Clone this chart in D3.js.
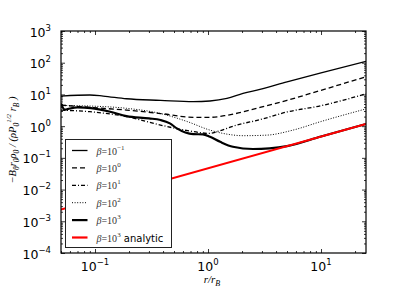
<!DOCTYPE html>
<html>
<head>
<meta charset="utf-8">
<script src="https://cdn.jsdelivr.net/npm/d3@7"></script>
<style>
	body { margin: 0; background: #fff; }
	svg { display: block; }
</style>
</head>
<body>
<script>
// values (r / r_B , -B_theta ...)
var rM1 = [0.05, 0.09, 0.118, 0.19, 0.38, 0.74, 1.04, 1.47, 2.04, 2.88, 5, 10, 25];
var bM1 = [8.9, 9.6, 8.9, 7.3, 6.5, 5.9, 6.2, 7.5, 10.8, 14.5, 25, 48, 110];

var rB0 = [0.05, 0.09, 0.19, 0.38, 0.74, 1.04, 1.47, 2.88, 5, 10, 25];
var bB0 = [4.6, 3.9, 3.2, 2.5, 1.9, 1.9, 2.2, 3.9, 6.5, 13.5, 36];

var rB1 = [0.05, 0.09, 0.19, 0.38, 0.66, 1.04, 1.2, 1.8, 2.88, 5, 10, 25];
var bB1 = [3.2, 2.85, 2.0, 1.08, 0.72, 0.59, 0.67, 1.08, 1.6, 2.8, 4.4, 10.5];

var rB2 = [0.05, 0.07, 0.09, 0.19, 0.38, 0.66, 1.04, 1.47, 2.04, 3.3, 5.65, 10, 25];
var bB2 = [4.5, 4.4, 4.3, 3.65, 2.5, 1.38, 0.75, 0.56, 0.5, 0.52, 0.75, 1.4, 3.5];

var rB3 = [0.05, 0.054, 0.058, 0.07, 0.092, 0.136, 0.19, 0.3, 0.38, 0.46, 0.53, 0.74, 0.9, 1.04, 1.28, 1.66, 2.5, 3.5, 5, 10, 25];
var bB3 = [5.2, 3.3, 3.5, 3.9, 3.7, 2.85, 2.08, 1.76, 1.56, 1.22, 0.85, 0.56, 0.55, 0.46, 0.32, 0.224, 0.19, 0.2, 0.235, 0.47, 1.17];

var rAn = [0.05, 25];
var bAn = [0.00235, 1.17];

var xTicks = [0.1, 1, 10];
var xTickExp = ["\u22121", "0", "1"];
var yTicks = [1e-4, 1e-3, 1e-2, 1e-1, 1, 10, 100, 1000];
var yTickExp = ["\u22124", "\u22123", "\u22122", "\u22121", "0", "1", "2", "3"];
var legendExp = ["\u22121", "0", "1", "2", "3", "3"];

var width = 407;
var height = 305;
var pLeft = 61, pRight = 366, pTop = 31, pBottom = 253;

var svg = d3
	.select("body")
	.append("svg")
	.attr("width", width)
	.attr("height", height);

var x = d3.scaleLog().domain([0.05, 25]).range([pLeft, pRight]);
var y = d3.scaleLog().domain([1e-4, 1e3]).range([pBottom, pTop]);

svg.append("clipPath").attr("id", "clip")
	.append("rect")
	.attr("x", pLeft).attr("y", pTop)
	.attr("width", pRight - pLeft).attr("height", pBottom - pTop);

function zip(rs, bs) {
	return rs.map(function (r, i) { return [r, bs[i]]; });
}

var series = [
	{ data: zip(rM1, bM1), color: "#000", w: 1.3, dash: null },
	{ data: zip(rB0, bB0), color: "#000", w: 1.3, dash: "5,3" },
	{ data: zip(rB1, bB1), color: "#000", w: 1.3, dash: "4,2,1,2" },
	{ data: zip(rB2, bB2), color: "#000", w: 1, dash: "1,1.6" },
	{ data: zip(rB3, bB3), color: "#000", w: 2.2, dash: null },
	{ data: zip(rAn, bAn), color: "#ff0000", w: 2.2, dash: null }
];

var line = d3.line()
	.x(function (d) { return x(d[0]); })
	.y(function (d) { return y(d[1]); })
	.curve(d3.curveMonotoneX);

var plot = svg.append("g").attr("clip-path", "url(#clip)");
plot.selectAll("path")
	.data(series)
	.enter()
	.append("path")
	.attr("d", function (d) { return line(d.data); })
	.attr("fill", "none")
	.attr("stroke", function (d) { return d.color; })
	.attr("stroke-width", function (d) { return d.w; })
	.attr("stroke-dasharray", function (d) { return d.dash; });

// minor tick values for log axes
function minors(domain) {
	var out = [];
	for (var e = -5; e <= 3; e++) {
		for (var k = 2; k <= 9; k++) {
			var v = k * Math.pow(10, e);
			if (v >= domain[0] && v <= domain[1]) out.push(v);
		}
	}
	return out;
}
var xMinor = minors(x.domain());
var yMinor = minors(y.domain());

function addAxis(axisFn, scale, vals, size, tr) {
	var g = svg.append("g")
		.attr("transform", tr)
		.call(axisFn(scale).tickValues(vals).tickSize(size).tickFormat(""));
	g.select(".domain").remove();
	g.selectAll("line").attr("stroke", "#000").attr("stroke-width", 0.8);
}
addAxis(d3.axisBottom, x, xTicks, -4, "translate(0," + pBottom + ")");
addAxis(d3.axisBottom, x, xMinor, -2, "translate(0," + pBottom + ")");
addAxis(d3.axisTop, x, xTicks, -4, "translate(0," + pTop + ")");
addAxis(d3.axisTop, x, xMinor, -2, "translate(0," + pTop + ")");
addAxis(d3.axisLeft, y, yTicks, -4, "translate(" + pLeft + ",0)");
addAxis(d3.axisLeft, y, yMinor, -2, "translate(" + pLeft + ",0)");
addAxis(d3.axisRight, y, yTicks, -4, "translate(" + pRight + ",0)");
addAxis(d3.axisRight, y, yMinor, -2, "translate(" + pRight + ",0)");

svg.append("rect")
	.attr("x", pLeft).attr("y", pTop)
	.attr("width", pRight - pLeft).attr("height", pBottom - pTop)
	.attr("fill", "none")
	.attr("stroke", "#000")
	.attr("stroke-width", 1.2);

// tick labels 10^n
var tickFont = "'DejaVu Sans', sans-serif";
xTicks.forEach(function (v, i) {
	var t = svg.append("text")
		.attr("x", x(v))
		.attr("y", pBottom + 18)
		.attr("text-anchor", "middle")
		.style("font-family", tickFont)
		.style("font-size", "12.5px");
	t.append("tspan").text("10");
	t.append("tspan").attr("dy", -6).style("font-size", "8.5px").text(xTickExp[i]);
});
yTicks.forEach(function (v, i) {
	var t = svg.append("text")
		.attr("x", 51)
		.attr("y", y(v) + 5.5)
		.attr("text-anchor", "end")
		.style("font-family", tickFont)
		.style("font-size", "12.5px");
	t.append("tspan").text("10");
	t.append("tspan").attr("dy", -6).style("font-size", "8.5px").text(yTickExp[i]);
});

// axis labels
var serif = "'Liberation Serif', 'DejaVu Serif', serif";
var xl = svg.append("text")
	.attr("x", 212)
	.attr("y", 283)
	.attr("text-anchor", "middle")
	.style("font-family", serif)
	.style("font-style", "italic")
	.style("font-size", "11px");
xl.append("tspan").text("r/r");
xl.append("tspan").attr("dy", 2.5).style("font-size", "8px").text("B");

var yl = svg.append("text")
	.attr("transform", "translate(16,140) rotate(-90)")
	.attr("text-anchor", "middle")
	.style("font-family", serif)
	.style("font-style", "italic")
	.style("font-size", "10.5px");
var ylParts = [
	["\u2212B", 0, 10.5], ["\u03b8", 2.5, 7.5], ["r", -2.5, 10.5], ["0", 2.5, 7.5],
	["\u03c1", -2.5, 10.5], ["0", 2.5, 7.5], [" / (\u03c1P", -2.5, 10.5], ["0", 2.5, 7.5],
	["1/2", -7.5, 7], [" r", 5, 10.5], ["B", 2.5, 7.5], [" )", -2.5, 10.5]
];
ylParts.forEach(function (p) {
	yl.append("tspan").attr("dy", p[1]).style("font-size", p[2] + "px").text(p[0]);
});

// legend
var legend = svg.append("g");
legend.append("rect")
	.attr("x", 65.5).attr("y", 139.5)
	.attr("width", 106).attr("height", 108)
	.attr("fill", "#fff")
	.attr("stroke", "#222")
	.attr("stroke-width", 1);

series.forEach(function (s, i) {
	var ly = 150.5 + i * 17.4;
	legend.append("line")
		.attr("x1", 72).attr("x2", 87.5)
		.attr("y1", ly).attr("y2", ly)
		.attr("stroke", s.color)
		.attr("stroke-width", s.w)
		.attr("stroke-dasharray", s.dash);
	var t = legend.append("text")
		.attr("x", 96.5)
		.attr("y", ly + 4)
		.style("font-family", serif)
		.style("font-size", "10px")
		.attr("fill", "#333");
	t.append("tspan").style("font-style", "italic").text("\u03b2");
	t.append("tspan").text("=10");
	t.append("tspan").attr("dy", -5).style("font-size", "7px").text(legendExp[i]);
	if (i == 5) {
		t.append("tspan").attr("dy", 5)
			.style("font-family", "'DejaVu Sans', sans-serif")
			.style("font-size", "10px")
			.attr("fill", "#000")
			.text(" analytic");
	}
});
</script>
</body>
</html>
